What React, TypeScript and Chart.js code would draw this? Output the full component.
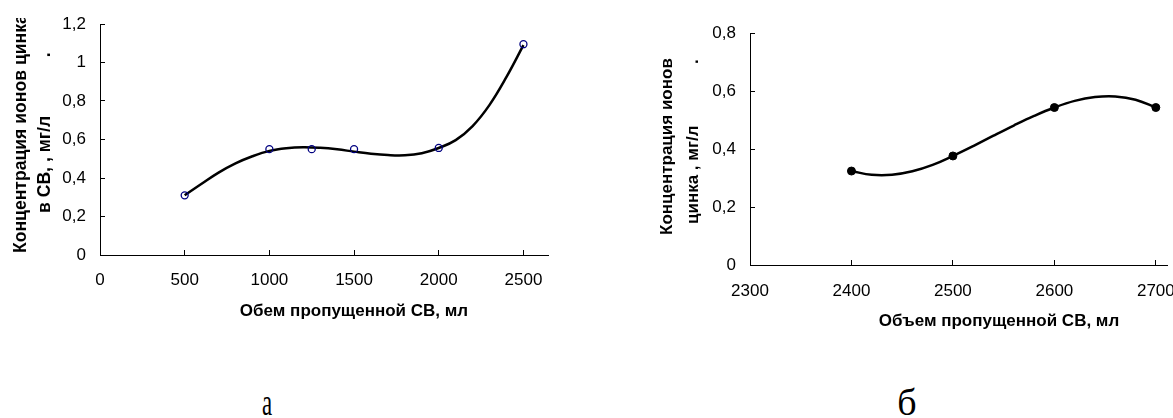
import { useEffect, useRef } from "react";
import { Chart, registerables } from "chart.js";

Chart.register(...registerables);

const FONT = "'Liberation Sans', Arial, Helvetica, sans-serif";

// ---------- Chart "а" ----------
const A_POINTS_X = [500, 1000, 1250, 1500, 2000, 2500];
const A_POINTS_Y = [0.31, 0.55, 0.55, 0.55, 0.556, 1.095];
const A_CURVE_X = [500, 600, 700, 800, 900, 1000, 1100, 1200, 1300, 1400, 1500, 1600, 1700, 1800, 1900, 2000, 2100, 2200, 2300, 2400, 2500];
const A_CURVE_Y = [0.31, 0.37, 0.428, 0.476, 0.513, 0.541, 0.555, 0.56, 0.557, 0.549, 0.537, 0.526, 0.519, 0.518, 0.529, 0.556, 0.597, 0.67, 0.78, 0.925, 1.09];
const A_X_TICKS = [0, 500, 1000, 1500, 2000, 2500];
const A_Y_TICKS = [0, 0.2, 0.4, 0.6, 0.8, 1, 1.2];
const A_Y_LABELS = ["0", "0,2", "0,4", "0,6", "0,8", "1", "1,2"];
const A_X_TITLE = "Обем пропущенной СВ, мл";
const A_Y_TITLE = ["Концентрация ионов цинка", "в СВ, , мг/л            ."];

// ---------- Chart "б" ----------
const B_POINTS_X = [2400, 2500, 2600, 2700];
const B_POINTS_Y = [0.324, 0.376, 0.543, 0.543];
const B_CURVE_X = [2400, 2420, 2440, 2460, 2480, 2500, 2520, 2540, 2560, 2580, 2600, 2620, 2640, 2660, 2680, 2700];
const B_CURVE_Y = [0.324, 0.311, 0.311, 0.323, 0.345, 0.376, 0.41, 0.446, 0.481, 0.514, 0.543, 0.566, 0.579, 0.581, 0.57, 0.543];
const B_X_TICKS = [2300, 2400, 2500, 2600, 2700];
const B_Y_TICKS = [0, 0.2, 0.4, 0.6, 0.8];
const B_Y_LABELS = ["0", "0,2", "0,4", "0,6", "0,8"];
const B_X_TITLE = "Объем пропущенной СВ, мл";
const B_Y_TITLE = ["Концентрация ионов", "цинка , мг/л             ."];

const CAPTIONS = ["а", "б"];

type TitleCfg = {
  xTitle: string;
  xTitleX: number;
  xTitleY: number;
  yLines: string[];
  yLineX: number[];
  yLineStart: number[];
  clipTop: number;
  size: number;
  ySize: number;
};

function titlesPlugin(cfg: TitleCfg) {
  return {
    id: "customTitles",
    afterDraw(chart: any) {
      const ctx: CanvasRenderingContext2D = chart.ctx;
      ctx.save();
      ctx.fillStyle = "#000";
      ctx.font = `bold ${cfg.size}px ${FONT}`;
      ctx.textAlign = "center";
      ctx.textBaseline = "alphabetic";
      ctx.fillText(cfg.xTitle, cfg.xTitleX, cfg.xTitleY);
      ctx.beginPath();
      ctx.rect(0, cfg.clipTop, chart.width, chart.height);
      ctx.clip();
      ctx.font = `bold ${cfg.ySize}px ${FONT}`;
      ctx.textAlign = "left";
      cfg.yLines.forEach((line, i) => {
        ctx.save();
        ctx.translate(cfg.yLineX[i], cfg.yLineStart[i]);
        ctx.rotate(-Math.PI / 2);
        ctx.fillText(line, 0, 0);
        ctx.restore();
      });
      ctx.restore();
    },
  };
}

function makeConfig(opts: {
  curveX: number[];
  curveY: number[];
  ptsX: number[];
  ptsY: number[];
  xMin: number;
  xMax: number;
  xTicks: number[];
  yMax: number;
  yTicks: number[];
  yLabels: string[];
  padding: { left: number; top: number; right: number; bottom: number };
  yWidth: number;
  xHeight: number;
  xLabelPad: number;
  hollow: boolean;
  titles: TitleCfg;
}) {
  const zeroPad = (s: any) => {
    s.paddingTop = 0;
    s.paddingBottom = 0;
    s.paddingLeft = 0;
    s.paddingRight = 0;
  };
  return {
    type: "scatter" as const,
    data: {
      datasets: [
        {
          data: opts.ptsX.map((x, i) => ({ x, y: opts.ptsY[i] })),
          showLine: false,
          pointRadius: opts.hollow ? 3.5 : 4,
          pointBackgroundColor: opts.hollow ? "rgba(0,0,0,0)" : "#000",
          pointBorderColor: opts.hollow ? "#000080" : "#000",
          pointBorderWidth: opts.hollow ? 1.3 : 1,
        },
        {
          data: opts.curveX.map((x, i) => ({ x, y: opts.curveY[i] })),
          showLine: true,
          borderColor: "#000",
          borderWidth: 2.5,
          pointRadius: 0,
          tension: 0.4,
          fill: false,
        },
      ],
    },
    options: {
      animation: false as const,
      responsive: false,
      maintainAspectRatio: false,
      layout: { padding: opts.padding },
      plugins: { legend: { display: false }, tooltip: { enabled: false } },
      scales: {
        x: {
          type: "linear" as const,
          min: opts.xMin,
          max: opts.xMax,
          afterBuildTicks: (s: any) => {
            s.ticks = opts.xTicks.map((v) => ({ value: v }));
          },
          afterFit: (s: any) => {
            s.height = opts.xHeight;
            zeroPad(s);
          },
          grid: { drawOnChartArea: false, drawTicks: true, tickLength: -5, color: "#000", lineWidth: 1 },
          border: { display: true, color: "#000", width: 1 },
          ticks: {
            color: "#000",
            font: { family: FONT, size: 17 },
            padding: opts.xLabelPad,
            maxRotation: 0,
            autoSkip: false,
            callback: (v: any) => String(v),
          },
        },
        y: {
          type: "linear" as const,
          min: 0,
          max: opts.yMax,
          afterBuildTicks: (s: any) => {
            s.ticks = opts.yTicks.map((v) => ({ value: v }));
          },
          afterFit: (s: any) => {
            s.width = opts.yWidth;
            zeroPad(s);
          },
          grid: { drawOnChartArea: false, drawTicks: true, tickLength: -5, color: "#000", lineWidth: 1 },
          border: { display: true, color: "#000", width: 1 },
          ticks: {
            color: "#000",
            font: { family: FONT, size: 17 },
            padding: 19,
            autoSkip: false,
            callback: (_v: any, i: number) => opts.yLabels[i],
          },
        },
      },
    },
    plugins: [titlesPlugin(opts.titles)],
  };
}

function ChartCanvas({ config, left, width, height }: { config: any; left: number; width: number; height: number }) {
  const ref = useRef<HTMLCanvasElement | null>(null);
  useEffect(() => {
    if (!ref.current) return;
    const chart = new Chart(ref.current, config);
    return () => chart.destroy();
  }, [config]);
  return (
    <canvas
      ref={ref}
      width={width}
      height={height}
      style={{ position: "absolute", left, top: 0, width, height }}
    />
  );
}

const configA = makeConfig({
  curveX: A_CURVE_X,
  curveY: A_CURVE_Y,
  ptsX: A_POINTS_X,
  ptsY: A_POINTS_Y,
  xMin: 0,
  xMax: 2645,
  xTicks: A_X_TICKS,
  yMax: 1.2,
  yTicks: A_Y_TICKS,
  yLabels: A_Y_LABELS,
  padding: { left: 0, top: 24, right: 42, bottom: 0 },
  yWidth: 100,
  xHeight: 85,
  xLabelPad: 20,
  hollow: true,
  titles: {
    xTitle: A_X_TITLE,
    xTitleX: 354,
    xTitleY: 316,
    yLines: A_Y_TITLE,
    yLineX: [26, 50],
    yLineStart: [253, 213],
    clipTop: 18,
    size: 17,
    ySize: 17.6,
  },
});

const B_LEFT = 590;
const configB = makeConfig({
  curveX: B_CURVE_X,
  curveY: B_CURVE_Y,
  ptsX: B_POINTS_X,
  ptsY: B_POINTS_Y,
  xMin: 2300,
  xMax: 2711,
  xTicks: B_X_TICKS,
  yMax: 0.8,
  yTicks: B_Y_TICKS,
  yLabels: B_Y_LABELS,
  padding: { left: 0, top: 33, right: 23, bottom: 0 },
  yWidth: 160,
  xHeight: 85,
  xLabelPad: 21,
  hollow: false,
  titles: {
    xTitle: B_X_TITLE,
    xTitleX: 999 - B_LEFT,
    xTitleY: 326,
    yLines: B_Y_TITLE,
    yLineX: [672 - B_LEFT, 698 - B_LEFT],
    yLineStart: [235, 224],
    clipTop: 0,
    size: 17,
    ySize: 17,
  },
});

export default function App() {
  return (
    <div
      style={{
        position: "fixed",
        left: 0,
        top: 0,
        width: 1173,
        height: 418,
        overflow: "hidden",
        background: "#fff",
      }}
    >
      <ChartCanvas config={configA} left={0} width={590} height={340} />
      <ChartCanvas config={configB} left={B_LEFT} width={600} height={350} />
      <span
        style={{
          position: "absolute",
          left: 267,
          top: 383,
          fontFamily: "'Liberation Serif', 'Times New Roman', serif",
          fontSize: 38,
          lineHeight: "38px",
          transform: "translateX(-50%) scaleX(0.6)",
          color: "#000",
        }}
      >
        {CAPTIONS[0]}
      </span>
      <span
        style={{
          position: "absolute",
          left: 907,
          top: 383,
          fontFamily: "'Liberation Serif', 'Times New Roman', serif",
          fontSize: 38,
          lineHeight: "38px",
          transform: "translateX(-50%)",
          color: "#000",
        }}
      >
        {CAPTIONS[1]}
      </span>
    </div>
  );
}
